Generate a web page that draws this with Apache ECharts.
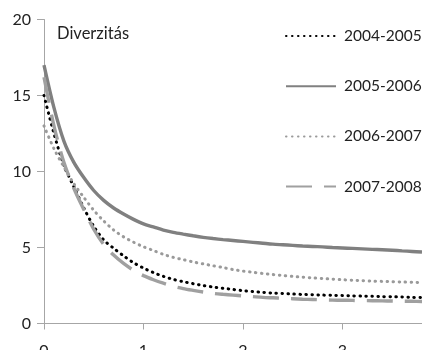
<!DOCTYPE html>
<html>
<head>
<meta charset="utf-8">
<script src="https://cdn.jsdelivr.net/npm/echarts@6/dist/echarts.min.js"></script>
<style>html,body{margin:0;padding:0;background:#fff}#c{width:422px;height:350px}</style>
</head>
<body>
<div id="c"></div>
<script>
const xValues = [0,0.1,0.2,0.3,0.4,0.5,0.6,0.7,0.8,0.9,1.0,1.1,1.2,1.3,1.4,1.5,1.6,1.7,1.8,1.9,2.0,2.1,2.2,2.3,2.4,2.5,2.6,2.7,2.8,2.9,3.0,3.1,3.2,3.3,3.4,3.5,3.6,3.7,3.8];
const seriesNames = ['2004-2005','2005-2006','2006-2007','2007-2008'];
const s2004 = [15.0,12.5,10.4,9.0,7.6,6.4,5.5,4.95,4.45,4.0,3.65,3.35,3.1,2.9,2.75,2.62,2.5,2.4,2.32,2.24,2.16,2.1,2.05,2.0,1.97,1.94,1.91,1.89,1.87,1.85,1.84,1.82,1.8,1.79,1.77,1.76,1.74,1.72,1.71];
const s2005 = [17.0,14.2,12.0,10.6,9.6,8.75,8.1,7.6,7.2,6.85,6.55,6.35,6.15,6.0,5.88,5.77,5.67,5.59,5.52,5.46,5.4,5.34,5.28,5.22,5.18,5.14,5.1,5.07,5.04,5.0,4.97,4.94,4.91,4.88,4.85,4.82,4.78,4.74,4.7];
const s2006 = [13.0,11.5,10.3,9.2,8.3,7.45,6.75,6.15,5.7,5.35,5.05,4.8,4.55,4.35,4.2,4.05,3.92,3.8,3.68,3.55,3.45,3.37,3.29,3.22,3.16,3.1,3.05,3.0,2.96,2.92,2.88,2.85,2.82,2.79,2.77,2.75,2.73,2.71,2.7];
const s2007 = [16.2,13.0,10.6,8.9,7.5,6.2,5.2,4.5,3.95,3.5,3.15,2.88,2.65,2.45,2.3,2.18,2.07,1.98,1.92,1.87,1.82,1.77,1.72,1.69,1.66,1.63,1.6,1.58,1.56,1.54,1.53,1.52,1.51,1.5,1.49,1.48,1.47,1.46,1.45];
const yTicks = [0,5,10,15,20];
const xTicks = [0,1,2,3];
const titleText = 'Diverzitás';

const pair = arr => arr.map((v,i)=>[xValues[i], v]);
const styles = [
  {color:'#000000', width:3, type:[0.5,5.5], cap:'round'},
  {color:'#808080', width:3.4, type:'solid', cap:'butt'},
  {color:'#9a9a9a', width:3, type:[0.5,5.5], cap:'round'},
  {color:'#a0a0a0', width:3.4, type:[26,12], cap:'butt'}
];
const datas = [s2004, s2005, s2006, s2007];
const FONT = 'Lato';
const chart = echarts.init(document.getElementById('c'), null, {renderer:'canvas'});
chart.setOption({
  animation:false,
  backgroundColor:'#fff',
  textStyle:{fontFamily:FONT},
  title:{text:titleText, left:52, top:20, textStyle:{fontFamily:FONT, fontSize:16.5, fontWeight:'normal', color:'#222'}},
  legend:{
    orient:'vertical', left:280, top:23, itemWidth:50, itemHeight:14, itemGap:34.2,
    itemStyle:{opacity:0},
    data:seriesNames,
    textStyle:{fontFamily:FONT, fontSize:15.5, color:'#222', padding:[0,0,0,3]}
  },
  grid:{left:44, top:19.5, width:378, height:304, outerBoundsMode:'none', containLabel:false},
  xAxis:{
    type:'value', min:0, max:3.8, interval:1,
    axisLine:{show:true, lineStyle:{color:'#a6a6a6', width:1}},
    axisTick:{show:true, length:6, lineStyle:{color:'#a6a6a6'}},
    splitLine:{show:false},
    axisLabel:{margin:19, fontFamily:FONT, fontSize:16, color:'#222',
      formatter:v=> xTicks.includes(v) ? String(v) : '', showMaxLabel:false}
  },
  yAxis:{
    type:'value', min:0, max:20, interval:5,
    axisLine:{show:true, lineStyle:{color:'#a6a6a6', width:1}},
    axisTick:{show:true, length:7, lineStyle:{color:'#a6a6a6'}},
    splitLine:{show:false},
    axisLabel:{margin:13, fontFamily:FONT, fontSize:16, color:'#222',
      formatter:v=> yTicks.includes(v) ? String(v) : ''}
  },
  series: seriesNames.map((n,i)=>({
    name:n, type:'line', data:pair(datas[i]), smooth:0.3, showSymbol:false, symbol:'none',
    lineStyle:styles[i], itemStyle:{color:styles[i].color}
  }))
});
</script>
</body>
</html>
